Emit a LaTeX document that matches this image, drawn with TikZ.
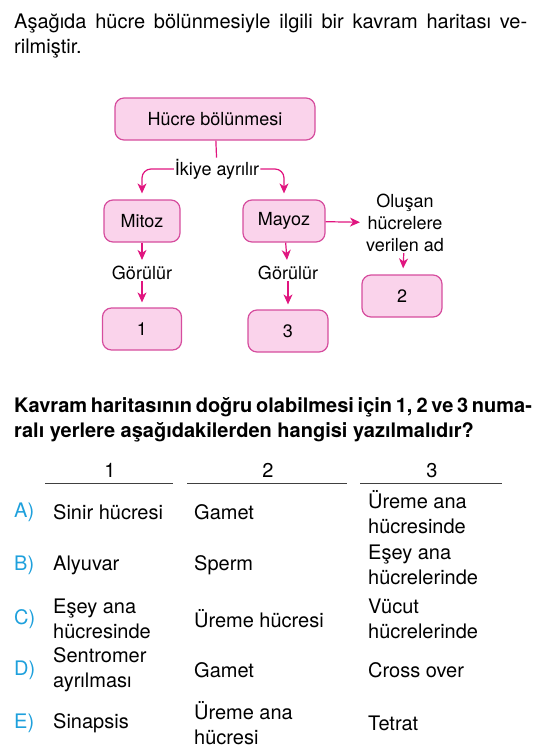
\documentclass[tikz,border=0pt]{standalone}
\usepackage{fontspec}
\setmainfont{TeX Gyre Heros}
\usetikzlibrary{arrows.meta,positioning,calc}
\definecolor{kfill}{RGB}{250,211,235}
\definecolor{kborder}{RGB}{214,77,158}
\definecolor{karrow}{RGB}{224,21,127}
\definecolor{kcyan}{RGB}{30,160,220}
\tikzset{kbox/.style={draw=kborder,fill=kfill,rounded corners=9pt,line width=1.2pt,minimum height=42pt,font=\fontsize{18}{20}\selectfont},
  lbl/.style={font=\fontsize{18}{22}\selectfont,inner sep=1pt},
  arr/.style={draw=karrow,line width=1.2pt,-{Stealth[length=10pt,width=9pt,inset=3pt]}},
  txt/.style={font=\fontsize{20}{25}\selectfont,inner sep=0pt,anchor=base west},
  cell/.style={font=\fontsize{20}{25}\selectfont,inner sep=0pt,anchor=west,align=left}}

\begin{document}
\begin{tikzpicture}[x=1pt,y=-1pt]
          \useasboundingbox (0,0) rectangle (543,755);

          % the text above the map
          \node (t1) [txt] at (14,28) {\makebox[513pt][s]{Aşağıda hücre bölünmesiyle ilgili bir kavram haritası ve-}};
          \node (t2) [txt] at (14,53) {rilmiştir.};

          % the concept map
          \node (hb) [kbox,minimum width=200pt] at (215,119) {Hücre bölünmesi};
          \node (ia) [lbl] at (217,169) {İkiye ayrılır};
          \node (mi) [kbox,minimum width=76pt] at (142,221) {Mitoz};
          \node (ma) [kbox,minimum width=82pt] at (284,221) {Mayoz};
          \node (g1) [lbl] at (142,273) {Görülür};
          \node (g3) [lbl] at (288,273) {Görülür};
          \node (b1) [kbox,minimum width=79pt] at (142,329) {1};
          \node (b3) [kbox,minimum width=80pt] at (288,331) {3};
          \node (ov) [lbl,align=center] at (405,223) {Oluşan\\hücrelere\\verilen ad};
          \node (b2) [kbox,minimum width=80pt] at (402,296) {2};

          % arrows
          \draw[draw=karrow,line width=1.2pt] (hb) -- (ia);
          \draw[arr,rounded corners=9pt,shorten >=6pt] (ia.west) -| (mi.north);
          \draw[arr,rounded corners=9pt,shorten >=6pt] (ia.east) -| (ma.north);
          \draw[arr,shorten >=5pt] (ma) -- (ov);
          \draw[arr,shorten >=6pt] (ov) -- (b2);
          \foreach \a/\b in {mi/g1, g1/b1, ma/g3, g3/b3}
            \draw[arr,shorten >=5pt] (\a) -- (\b);

          % the question
          \node (q1) [txt,font=\fontsize{20}{25}\selectfont\bfseries] at (14,412) {\makebox[514pt][s]{Kavram haritasının doğru olabilmesi için 1, 2 ve 3 numa-}};
          \node (q2) [txt,font=\fontsize{20}{25}\selectfont\bfseries] at (14,437) {ralı yerlere aşağıdakilerden hangisi yazılmalıdır?};

          % the table head
          \foreach \n/\x/\l/\r in {1/110/45/173, 2/268/187/347, 3/432/360/502}
          {\node (h-\n) [cell,anchor=base] at (\x,477) {\n};
            \coordinate (hl-\n) at (\l,483);
            \coordinate (hr-\n) at (\r,483);
            \draw[line width=0.9pt,black!75] (hl-\n) -- (hr-\n);}

          % the choices
          \foreach \y/\o/\p/\q/\s in {512/A/{Sinir hücresi}/Gamet/{Üreme ana\\hücresinde},
            565/B/Alyuvar/Sperm/{Eşey ana\\hücrelerinde},
            619/C/{Eşey ana\\hücresinde}/{Üreme hücresi}/{Vücut\\hücrelerinde},
            670/D/{Sentromer\\ayrılması}/Gamet/{Cross over},
            723/E/Sinapsis/{Üreme ana\\hücresi}/Tetrat}
          {\node (o-\o) [cell,text=kcyan] at (14,\y) {\o)};
            \node (p-\o) [cell] at (53,\y) {\p};
            \node (q-\o) [cell] at (194,\y) {\q};
            \node (s-\o) [cell] at (368,\y) {\s};}

        \end{tikzpicture}
\end{document}
